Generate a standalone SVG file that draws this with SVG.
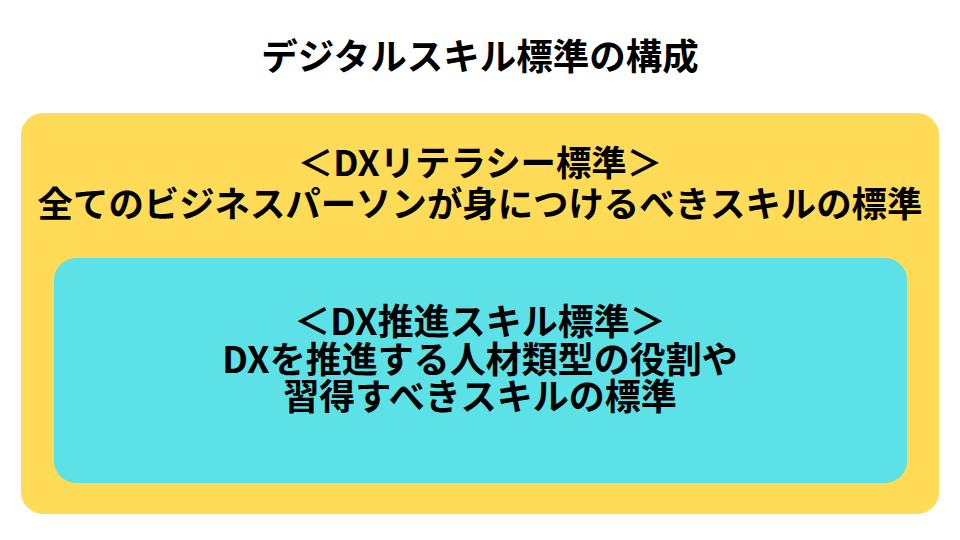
<svg xmlns="http://www.w3.org/2000/svg" width="960" height="540" viewBox="0 0 960 540">
<style>
text{font-family:"Noto Sans CJK JP","Noto Sans",sans-serif;font-weight:700;fill:#000;text-anchor:middle}
.t{font-size:36.5px}
.y{font-size:35.4px}
.c{font-size:36px}
</style>
<rect width="960" height="540" fill="#fff"/>
<g id="title"><text class="t" x="480" y="70">デジタルスキル標準の構成</text></g>
<g id="dx-literacy">
<rect x="21" y="113" width="918" height="401" rx="22" fill="#FFDB57"/>
<text class="y" x="480" y="176">＜DXリテラシー標準＞</text>
<text class="y" x="480" y="217">全てのビジネスパーソンが身につけるべきスキルの標準</text>
</g>
<g id="dx-promotion">
<rect x="54" y="258" width="853" height="225" rx="22" fill="#5CE1E6"/>
<text class="c" x="480" y="335">＜DX推進スキル標準＞</text>
<text class="c" x="480" y="373">DXを推進する人材類型の役割や</text>
<text class="c" x="480" y="410">習得すべきスキルの標準</text>
</g>
<g id="connectors"/>
</svg>
